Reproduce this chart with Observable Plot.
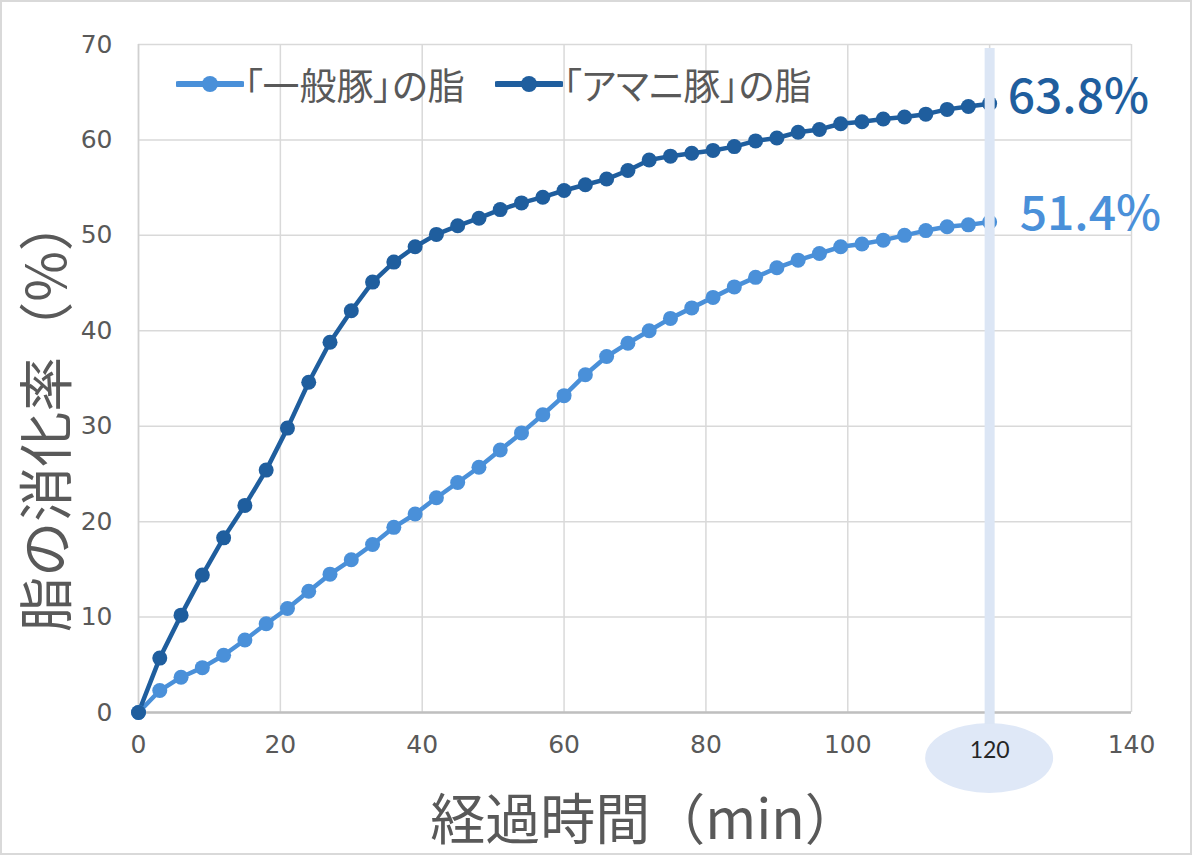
<!DOCTYPE html>
<html>
<head>
<meta charset="utf-8">
<script src="https://cdn.jsdelivr.net/npm/d3@7"></script>
<script src="https://cdn.jsdelivr.net/npm/@observablehq/plot@0.6"></script>
<style>
  html, body { margin: 0; padding: 0; background: #fff; }
  #wrap { position: relative; width: 1200px; height: 856px; overflow: hidden; font-family: "Noto Sans CJK JP", "Noto Sans", sans-serif; }
  #frame { position: absolute; left: 0; top: 0; width: 1188px; height: 851px; border: 2px solid #d9d9d9; pointer-events: none; }
  .legend { position: absolute; top: 58px; height: 52px; display: flex; align-items: center; font-size: 37px; color: #595959; white-space: nowrap; font-feature-settings: "palt"; }
  .ytitle { position: absolute; left: 42px; top: 414px; transform: translate(-50%, -50%) rotate(-90deg); font-size: 55px; color: #595959; white-space: nowrap; line-height: 1; }
  .xtitle { position: absolute; left: 645px; top: 787px; transform: translateX(-50%); font-size: 55px; color: #595959; white-space: nowrap; line-height: 56px; }
</style>
</head>
<body>
<div id="wrap"></div>
<script>
// ---- data ----
const times = [0, 3, 6, 9, 12, 15, 18, 21, 24, 27, 30, 33, 36, 39, 42, 45, 48, 51, 54, 57, 60, 63, 66, 69, 72, 75, 78, 81, 84, 87, 90, 93, 96, 99, 102, 105, 108, 111, 114, 117, 120];
const normalPork = [0, 2.3, 3.7, 4.7, 6.0, 7.6, 9.3, 10.9, 12.7, 14.5, 16.0, 17.6, 19.4, 20.8, 22.5, 24.1, 25.7, 27.5, 29.3, 31.2, 33.2, 35.4, 37.3, 38.7, 40.0, 41.3, 42.4, 43.5, 44.6, 45.6, 46.6, 47.4, 48.1, 48.8, 49.1, 49.5, 50.0, 50.5, 50.9, 51.1, 51.4];
const flaxPork = [0, 5.7, 10.2, 14.4, 18.3, 21.7, 25.4, 29.8, 34.6, 38.8, 42.1, 45.1, 47.2, 48.8, 50.1, 51.0, 51.8, 52.7, 53.4, 54.0, 54.7, 55.3, 55.9, 56.8, 57.9, 58.3, 58.6, 58.9, 59.3, 59.9, 60.2, 60.8, 61.1, 61.7, 61.9, 62.2, 62.4, 62.7, 63.2, 63.5, 63.8];
const seriesNames = ["「一般豚」の脂", "「アマニ豚」の脂"];
const seriesColors = ["#4a90d9", "#1f5e9e"];
const xTicks = [0, 20, 40, 60, 80, 100, 120, 140];
const yTicks = [0, 10, 20, 30, 40, 50, 60, 70];
const highlightX = 120;
const xTitle = "経過時間（min）";
const yTitle = "脂の消化率（%）";

const rows = [];
[normalPork, flaxPork].forEach((vals, si) => {
  vals.forEach((v, i) => rows.push({ t: times[i], v, s: seriesNames[si], c: seriesColors[si] }));
});
const lastRows = [normalPork, flaxPork].map((vals, si) => ({
  t: times[times.length - 1], v: vals[vals.length - 1], s: seriesNames[si], c: seriesColors[si]
}));

const tickFont = "'DejaVu Sans', 'Liberation Sans', sans-serif";
const labelFont = "'Noto Sans CJK JP', 'Noto Sans', sans-serif";

const chart = Plot.plot({
  width: 1200,
  height: 856,
  marginLeft: 138,
  marginRight: 69,
  marginTop: 44,
  marginBottom: 144,
  style: { background: "transparent", fontFamily: tickFont, fontSize: "25px", color: "#595959" },
  x: { domain: [0, 140] },
  y: { domain: [0, 70] },
  marks: [
    Plot.gridX(xTicks, { stroke: "#d9d9d9", strokeOpacity: 1, strokeWidth: 1.5 }),
    Plot.gridY(yTicks, { stroke: "#d9d9d9", strokeOpacity: 1, strokeWidth: 1.5 }),
    Plot.ruleX([0], { stroke: "#d0d0d0", strokeWidth: 1.5 }),
    Plot.ruleY([0], { stroke: "#bfbfbf", strokeWidth: 2.5 }),
    Plot.axisY(yTicks, { tickSize: 0, tickPadding: 26, fill: "#595959", fontSize: 25, fontFamily: tickFont, label: null }),
    Plot.axisX(xTicks.filter(d => d !== highlightX), { tickSize: 0, tickPadding: 23, fill: "#595959", fontSize: 25, fontFamily: tickFont, label: null }),
    Plot.line(rows, { x: "t", y: "v", z: "s", stroke: "c", strokeWidth: 4.5, strokeLinejoin: "round" }),
    Plot.dot(rows.filter(d => d.s === seriesNames[0]), { x: "t", y: "v", r: 7.5, fill: "c", stroke: "none" }),
    Plot.dot(rows.filter(d => d.s === seriesNames[1]), { x: "t", y: "v", r: 7.5, fill: "c", stroke: "none" }),
    Plot.ruleX([highlightX], { stroke: "#dce6f5", strokeWidth: 10, insetTop: 4, insetBottom: -12 }),
    Plot.text([highlightX], { x: d => d, frameAnchor: "bottom", dy: 45, text: d => String(d), fill: "#262626", fontSize: 23, fontFamily: "Lato, 'Open Sans', sans-serif" }),
    Plot.text(lastRows.filter(d => d.s === seriesNames[1]), { x: "t", y: "v", text: d => d.v.toFixed(1) + "%", fill: "c", textAnchor: "start", dx: 18, dy: -6, fontSize: 48, fontWeight: 500, letterSpacing: "5px", fontFamily: labelFont }),
    Plot.text(lastRows.filter(d => d.s === seriesNames[0]), { x: "t", y: "v", text: d => d.v.toFixed(1) + "%", fill: "c", textAnchor: "start", dx: 30, dy: -7, fontSize: 48, fontWeight: 500, letterSpacing: "5px", fontFamily: labelFont })
  ]
});

// ellipse highlight behind the 120 tick label
const cx = chart.scale("x").apply(highlightX);
const cy = chart.scale("y").apply(0) + 46;
d3.select(chart).insert("ellipse", ":first-child")
  .attr("cx", cx).attr("cy", cy).attr("rx", 64).attr("ry", 35)
  .attr("fill", "#dfe8f7");

const wrap = document.getElementById("wrap");
wrap.appendChild(chart);
chart.style.position = "absolute";
chart.style.left = "0px";
chart.style.top = "0px";

// legend
function legendItem(left, color, name) {
  const div = document.createElement("div");
  div.className = "legend";
  div.style.left = left + "px";
  const sw = d3.create("svg").attr("width", 68).attr("height", 20).style("margin-right", "0px");
  sw.append("line").attr("x1", 2).attr("x2", 66).attr("y1", 10).attr("y2", 10)
    .attr("stroke", color).attr("stroke-width", 6).attr("stroke-linecap", "round");
  sw.append("circle").attr("cx", 34).attr("cy", 10).attr("r", 8).attr("fill", color);
  div.appendChild(sw.node());
  const span = document.createElement("span");
  span.textContent = name;
  div.appendChild(span);
  wrap.appendChild(div);
}
legendItem(176, seriesColors[0], seriesNames[0]);
legendItem(495, seriesColors[1], seriesNames[1]);

const yt = document.createElement("div");
yt.className = "ytitle"; yt.textContent = yTitle; wrap.appendChild(yt);
const xt = document.createElement("div");
xt.className = "xtitle"; xt.textContent = xTitle; wrap.appendChild(xt);

const fr = document.createElement("div");
fr.id = "frame"; wrap.appendChild(fr);
</script>
</body>
</html>
